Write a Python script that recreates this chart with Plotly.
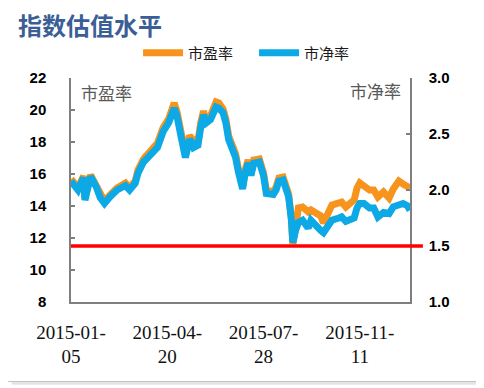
import plotly.graph_objects as go

# ---------------- data ----------------
DATES = [
    "2015-01-05", "2015-01-12", "2015-01-16", "2015-01-19", "2015-01-23", "2015-01-29",
    "2015-02-03", "2015-02-06", "2015-02-12", "2015-02-26", "2015-03-06", "2015-03-11",
    "2015-03-17", "2015-03-19", "2015-03-25", "2015-04-01", "2015-04-09", "2015-04-15",
    "2015-04-21", "2015-04-27", "2015-04-29", "2015-05-05", "2015-05-08", "2015-05-13",
    "2015-05-15", "2015-05-18", "2015-05-21", "2015-05-25", "2015-05-27", "2015-05-29",
    "2015-06-03", "2015-06-09", "2015-06-11", "2015-06-16", "2015-06-18", "2015-06-23",
    "2015-06-26", "2015-06-30", "2015-07-02", "2015-07-07", "2015-07-09", "2015-07-13",
    "2015-07-15", "2015-07-17", "2015-07-23", "2015-07-28", "2015-07-30", "2015-08-06",
    "2015-08-10", "2015-08-12", "2015-08-17", "2015-08-19", "2015-08-21", "2015-08-25",
    "2015-08-26", "2015-08-28", "2015-09-01", "2015-09-08", "2015-09-14", "2015-09-16",
    "2015-09-22", "2015-09-25", "2015-09-29", "2015-10-12", "2015-10-14", "2015-10-21",
    "2015-10-23", "2015-10-28", "2015-10-30", "2015-11-05", "2015-11-09", "2015-11-11",
    "2015-11-16", "2015-11-20", "2015-11-25", "2015-11-30", "2015-12-04", "2015-12-10",
    "2015-12-15", "2015-12-17", "2015-12-21", "2015-12-24", "2015-12-29", "2015-12-31",
]

PE = [
    15.69, 15.13, 15.88, 14.50, 15.94, 15.31,
    14.63, 14.31, 14.69, 15.13, 15.44, 15.13,
    15.56, 16.25, 16.94, 17.38, 17.94, 18.88,
    19.44, 20.44, 19.88, 18.56, 17.31, 18.38,
    18.19, 17.88, 18.06, 19.19, 19.94, 19.19,
    19.63, 20.50, 20.44, 20.06, 19.44, 18.38,
    17.75, 17.25, 16.31, 15.25, 16.31, 16.88,
    16.00, 16.88, 16.94, 16.06, 15.00, 14.88,
    15.19, 15.75, 15.81, 15.38, 14.75, 13.25,
    11.63, 12.63, 13.88, 13.94, 13.63, 13.75,
    13.56, 13.38, 12.94, 13.75, 14.06, 14.19,
    14.25, 13.94, 14.13, 14.38, 15.13, 15.44,
    15.25, 15.00, 15.00, 14.56, 14.88, 14.50,
    15.06, 15.25, 15.56, 15.38, 15.25, 15.13,
]

PB = [
    2.08, 2.00, 2.11, 1.91, 2.12, 2.03,
    1.93, 1.88, 1.94, 2.00, 2.04, 2.00,
    2.06, 2.15, 2.25, 2.31, 2.38, 2.52,
    2.60, 2.73, 2.66, 2.47, 2.29, 2.45,
    2.42, 2.38, 2.40, 2.56, 2.67, 2.60,
    2.63, 2.74, 2.73, 2.69, 2.60, 2.45,
    2.36, 2.29, 2.16, 2.01, 2.16, 2.24,
    2.13, 2.24, 2.25, 2.13, 1.97, 1.96,
    2.00, 2.08, 2.09, 2.03, 1.94, 1.73,
    1.53, 1.64, 1.71, 1.73, 1.66, 1.73,
    1.67, 1.64, 1.62, 1.69, 1.73, 1.75,
    1.76, 1.72, 1.73, 1.75, 1.84, 1.88,
    1.88, 1.84, 1.84, 1.76, 1.80, 1.79,
    1.85, 1.86, 1.88, 1.88, 1.86, 1.82,
]

PB_THRESHOLD = 1.5

# non-trading weekdays of 2015 (Shanghai exchange holidays)
HOLIDAYS = [
    "2015-01-01", "2015-01-02", "2015-02-18", "2015-02-19", "2015-02-20",
    "2015-02-23", "2015-02-24", "2015-04-06", "2015-05-01", "2015-06-22",
    "2015-09-03", "2015-09-04", "2015-10-01", "2015-10-02", "2015-10-05",
    "2015-10-06", "2015-10-07",
]

X_TICKS = ["2015-01-05", "2015-04-20", "2015-07-28", "2015-11-11"]
LEFT_TICKS = [8, 10, 12, 14, 16, 18, 20, 22]
RIGHT_TICKS = [1.0, 1.5, 2.0, 2.5, 3.0]

TITLE = "指数估值水平"
PE_NAME = "市盈率"
PB_NAME = "市净率"

# ---------------- style ----------------
ORANGE = "#F7941D"
BLUE = "#0DA9E6"
RED = "#FF0000"
AXIS = "#7F7F7F"
CJK = "Noto Sans CJK SC"

fig = go.Figure()
fig.add_trace(go.Scatter(
    x=DATES, y=PE, name=PE_NAME, mode="lines",
    line=dict(color=ORANGE, width=7), yaxis="y",
))
fig.add_trace(go.Scatter(
    x=DATES, y=PB, name=PB_NAME, mode="lines",
    line=dict(color=BLUE, width=7), yaxis="y2",
))

fig.add_shape(
    type="line", xref="paper", yref="y2",
    x0=0, x1=1.038, y0=PB_THRESHOLD, y1=PB_THRESHOLD,
    line=dict(color=RED, width=3.5), layer="above",
)

# picture frame shadow (right and bottom)
fig.add_shape(type="line", xref="paper", yref="paper",
              x0=1.1991, x1=1.1991, y0=-0.355, y1=1.31,
              line=dict(color="#C4C4C4", width=1), layer="below")
fig.add_shape(type="line", xref="paper", yref="paper",
              x0=-0.186, x1=1.1991, y0=-0.355, y1=-0.355,
              line=dict(color="#C4C4C4", width=1), layer="below")
fig.add_shape(type="rect", xref="paper", yref="paper",
              x0=1.2010, x1=1.2100, y0=-0.369, y1=1.30,
              line=dict(width=0), fillcolor="#E4E4E4", layer="below")
fig.add_shape(type="rect", xref="paper", yref="paper",
              x0=-0.175, x1=1.2100, y0=-0.369, y1=-0.3575,
              line=dict(width=0), fillcolor="#E4E4E4", layer="below")

tick_text = [d[:8] + "<br>" + d[8:] for d in X_TICKS]

fig.update_layout(
    width=476, height=380, autosize=False,
    margin=dict(l=63, r=74, t=70, b=86),
    paper_bgcolor="white", plot_bgcolor="white",
    title=dict(text=TITLE, x=0.021, xanchor="left", xref="container",
               y=0.972, yanchor="top", yref="container",
               font=dict(family=CJK, size=24, color="#3B5E96", weight="bold")),
    showlegend=True,
    legend=dict(orientation="h", x=0.54, xanchor="center", y=1.112, yanchor="middle",
                font=dict(family=CJK, size=15, color="#1A1A1A"),
                bgcolor="rgba(0,0,0,0)", itemwidth=40, traceorder="normal",
                entrywidth=61, entrywidthmode="pixels"),
    xaxis=dict(
        type="date", range=[DATES[0], DATES[-1]],
        rangebreaks=[dict(bounds=["sat", "mon"]), dict(values=HOLIDAYS)],
        tickmode="array", tickvals=X_TICKS, ticktext=tick_text,
        ticks="", showgrid=False, zeroline=False,
        showline=True, linecolor=AXIS, linewidth=1.5,
        tickfont=dict(family="Liberation Serif, serif", size=19, color="#111111"),
        ticklabelstandoff=12,
    ),
    yaxis=dict(
        range=[8, 22], tickmode="array", tickvals=LEFT_TICKS,
        ticks="inside", ticklen=4, tickcolor=AXIS, tickwidth=1.5,
        showline=True, linecolor=AXIS, linewidth=1.5,
        showgrid=False, zeroline=False,
        tickfont=dict(family="Liberation Sans, Arial", size=15, color="#000000", weight="bold"),
        ticklabelstandoff=20,
    ),
    yaxis2=dict(
        range=[1.0, 3.0], overlaying="y", side="right",
        tickmode="array", tickvals=RIGHT_TICKS, tickformat=".1f",
        ticks="inside", ticklen=4, tickcolor=AXIS, tickwidth=1.5,
        showline=True, linecolor=AXIS, linewidth=1.5,
        showgrid=False, zeroline=False,
        tickfont=dict(family="Liberation Sans, Arial", size=15, color="#000000", weight="bold"),
        ticklabelstandoff=14,
    ),
    annotations=[
        dict(text=PE_NAME, xref="paper", yref="paper", x=0.024, y=0.935,
             xanchor="left", yanchor="middle", showarrow=False,
             font=dict(family=CJK, size=17, color="#595959")),
        dict(text=PB_NAME, xref="paper", yref="paper", x=0.978, y=0.945,
             xanchor="right", yanchor="middle", showarrow=False,
             font=dict(family=CJK, size=17, color="#595959")),
    ],
)

fig.write_html("out.html")
